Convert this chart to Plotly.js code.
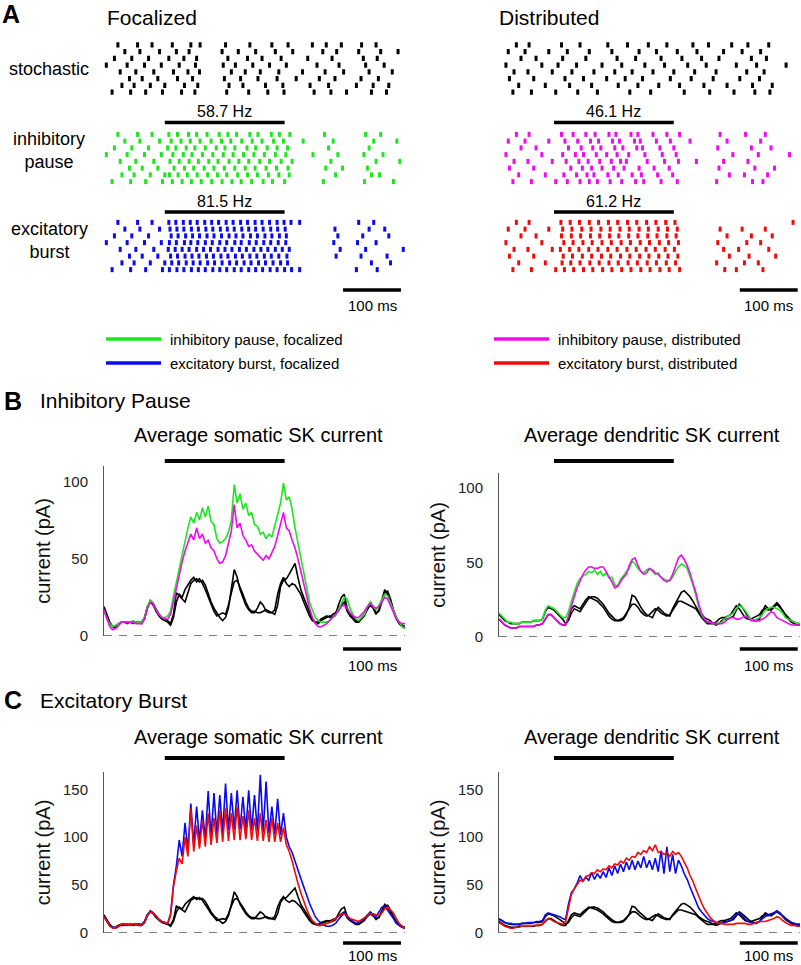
<!DOCTYPE html>
<html>
<head>
<meta charset="utf-8">
<script src="https://cdn.plot.ly/plotly-3.0.1.min.js"></script>
<style>
html,body{margin:0;padding:0;background:#fff;}
#chart{width:801px;height:965px;}
</style>
</head>
<body>
<div id="chart"></div>
<script>
// ---------------- DATA ----------------
// time window of the stimulus (ms) and 100-ms scale bars
const STIM_WINDOW = [105, 312];
const SCALE_LEFT = [413, 513];
const SCALE_RIGHT = [426, 526];
const HZ_LABELS = ["58.7 Hz", "81.5 Hz", "46.1 Hz", "61.2 Hz"];
const ROW_LABELS = ["stochastic", "inhibitory<br>pause", "excitatory<br>burst"];
const LEGEND_LABELS = ["inhibitory pause, focalized", "excitatory burst, focalized",
                       "inhibitory pause, distributed", "excitatory burst, distributed"];
const TICKS_B = [0, 50, 100];
const TICKS_C = [0, 50, 100, 150];

// Raster spike times (ms), 8 cells each
const STOCH_FOC = [
  [24, 58, 83, 118, 150, 166, 210, 252, 290, 318, 360, 384, 410, 445, 470],
  [36, 62, 96, 125, 147, 204, 232, 262, 296, 326, 378, 402, 440, 478, 508],
  [18, 48, 77, 112, 138, 160, 214, 248, 273, 306, 352, 394, 448, 472],
  [4, 40, 70, 99, 130, 158, 206, 227, 257, 286, 315, 368, 406, 452, 484],
  [28, 55, 86, 120, 145, 165, 220, 244, 270, 302, 343, 382, 414, 458, 498],
  [44, 66, 93, 127, 153, 208, 236, 266, 299, 332, 372, 399, 444, 474],
  [31, 52, 80, 105, 139, 162, 216, 240, 279, 309, 356, 388, 436, 465, 492],
  [14, 46, 72, 101, 134, 157, 212, 250, 283, 311, 363, 392, 419, 462, 488]
];
const PAUSE_FOC_STIM = [
  [112, 127, 146, 160, 178, 199, 214, 229, 252, 266, 289, 303, 321],
  [116, 133, 149, 166, 185, 203, 219, 238, 256, 273, 293, 310],
  [110, 124, 142, 157, 175, 194, 209, 226, 247, 262, 282, 299, 317],
  [119, 137, 152, 170, 188, 206, 223, 241, 259, 277, 296, 314],
  [114, 130, 147, 163, 181, 197, 216, 233, 250, 269, 286, 306, 325],
  [121, 139, 155, 173, 190, 208, 226, 244, 261, 280, 298, 318],
  [113, 128, 144, 161, 179, 196, 212, 231, 248, 265, 284, 302, 320],
  [118, 135, 151, 168, 186, 204, 221, 237, 255, 275, 291, 312]
];
const PAUSE_FOC_POST = [
  [381, 452, 478], [344, 396, 466, 506], [388, 458], [361, 404, 449, 482],
  [392, 470, 511], [383, 412, 455], [400, 462, 476], [379, 450, 500]
];
const BURST_FOC_STIM = [
  [112, 124, 137, 149, 161, 174, 186, 198, 211, 223, 236, 248, 261, 273, 286, 299, 311, 323],
  [114, 126, 138, 151, 163, 176, 188, 201, 213, 225, 238, 250, 262, 275, 288, 300, 313],
  [116, 128, 141, 153, 165, 178, 190, 203, 216, 228, 240, 253, 265, 278, 290, 303, 315],
  [113, 125, 139, 150, 162, 175, 187, 200, 212, 226, 237, 251, 263, 276, 288, 301, 314],
  [111, 123, 135, 147, 160, 172, 184, 197, 209, 221, 234, 246, 259, 271, 283, 296, 308, 320],
  [115, 127, 140, 152, 164, 177, 189, 202, 214, 227, 239, 252, 264, 277, 289, 302, 316],
  [117, 129, 142, 154, 166, 179, 191, 204, 217, 229, 242, 254, 267, 279, 292, 305, 317],
  [113, 126, 138, 151, 163, 175, 188, 200, 212, 225, 237, 250, 262, 274, 287, 299, 312, 324]
];
const BURST_FOC_POST = [
  [338, 440, 466], [399, 458, 485], [404, 447, 492], [397, 438, 470],
  [408, 452, 517], [401, 444, 489], [462, 495], [338, 436, 472]
];
const STOCH_DIS = [
  [40, 62, 118, 150, 198, 232, 268, 300, 345, 372, 412, 440, 476],
  [26, 55, 96, 128, 166, 205, 252, 282, 318, 352, 398, 430, 462],
  [48, 74, 120, 160, 214, 246, 290, 326, 360, 390, 446, 472],
  [22, 84, 112, 144, 188, 222, 262, 296, 336, 368, 420, 455, 506],
  [36, 60, 102, 136, 174, 210, 240, 276, 312, 348, 385, 438, 468],
  [28, 70, 124, 156, 196, 228, 258, 306, 342, 380, 426, 460],
  [44, 90, 132, 170, 216, 250, 286, 322, 364, 404, 448, 482],
  [34, 66, 108, 146, 180, 236, 272, 330, 374, 416, 452, 478]
];
const PAUSE_DIS_STIM = [
  [118, 138, 160, 176, 200, 212, 238, 250, 276, 300, 322],
  [124, 146, 168, 182, 206, 218, 244, 254, 282, 306],
  [130, 152, 172, 186, 210, 224, 248, 258, 288, 312],
  [120, 142, 156, 178, 196, 214, 234, 262, 292, 316],
  [126, 148, 164, 184, 204, 220, 230, 266, 296, 320],
  [134, 154, 170, 188, 208, 226, 252, 278, 304],
  [122, 144, 162, 174, 198, 216, 240, 256, 284, 310],
  [128, 150, 166, 180, 202, 222, 246, 260, 290, 318]
];
const PAUSE_DIS_POST = [
  [392, 436, 470], [340, 404, 462], [388, 446, 480], [414, 458, 512],
  [351, 398, 440], [390, 452, 486], [408, 434, 474], [386, 448, 466]
];
const BURST_DIS_STIM = [
  [117, 133, 149, 166, 182, 199, 215, 232, 248, 265, 281, 298, 314],
  [120, 136, 153, 169, 186, 202, 219, 235, 252, 268, 285, 301, 318],
  [118, 135, 151, 168, 184, 201, 217, 234, 250, 267, 283, 300, 316],
  [122, 138, 155, 171, 188, 204, 221, 237, 254, 270, 287, 303, 320],
  [116, 132, 148, 165, 181, 198, 214, 231, 247, 264, 280, 297, 313],
  [121, 137, 154, 170, 187, 203, 220, 236, 253, 269, 286, 302, 319],
  [119, 134, 150, 167, 183, 200, 216, 233, 249, 266, 282, 299, 315],
  [123, 139, 156, 172, 189, 205, 222, 238, 255, 271, 288, 304, 322]
];
const BURST_DIS_POST = [
  [518], [392, 430, 470], [404, 446, 482], [388, 438, 462],
  [398, 424, 476], [408, 442, 488], [386, 434, 458], [400, 420, 466]
];

// Average SK currents (pA), sampled every 5 ms
// somatic: t = 0 ... 520 ms ; dendritic: t = 10 ... 530 ms
const BLACK_SOMA_1 = [19,14,9,6,5,7,9,9,8,9,9,9,9,8,11,18,23,21,17,14,12,11,10,8,
  14,28,26,24,22,28,34,36,37,35,36,33,27,22,18,15,12,10,12,18,30,43,38,30,25,20,17,15,15,18,
  22,20,16,15,15,14,20,32,36,37,40,44,47,38,30,25,20,15,11,9,8,10,11,12,13,12,14,20,25,27,
  18,14,12,10,9,11,13,18,22,19,15,16,22,28,29,24,17,12,9,7,6];
const BLACK_SOMA_2 = [17,13,8,6,6,8,9,9,9,9,8,9,9,9,12,19,22,20,16,13,11,10,9,7,
  12,22,27,25,30,33,36,38,35,37,34,30,25,20,16,13,14,15,14,20,28,35,36,32,27,22,18,16,16,15,
  15,16,17,16,15,17,27,34,38,34,32,34,33,30,27,22,17,13,10,9,9,11,12,13,12,14,15,18,20,22,
  16,13,11,9,9,12,14,17,20,18,14,17,24,30,27,22,16,11,8,6,5];
const GREEN_SOMA = [16,11,8,6,7,8,9,9,9,9,10,9,9,9,12,19,23,21,17,14,12,12,13,16,
  26,35,45,52,62,70,77,73,80,75,83,77,84,74,72,63,60,61,63,67,75,98,86,92,82,86,78,80,72,71,
  66,67,63,66,64,72,80,86,99,88,90,82,70,60,50,40,30,22,17,12,10,9,9,9,10,12,13,17,21,25,
  24,18,14,11,10,12,14,19,22,19,17,20,24,27,26,21,17,12,9,6,5];
const MAGENTA_SOMA = [17,11,6,4,5,7,9,9,9,9,9,8,8,8,11,18,22,21,17,14,12,11,11,14,
  22,31,40,48,55,60,66,62,70,63,66,60,62,57,55,50,47,48,52,60,68,85,70,73,65,62,58,59,55,53,
  51,49,52,50,54,58,65,72,80,70,68,62,57,50,42,33,25,18,12,8,6,6,7,8,10,12,14,16,19,20,
  18,15,13,12,12,14,16,19,21,19,18,19,22,25,24,20,15,11,9,8,8];
const BLUE_SOMA = [17,12,8,6,5,7,8,8,9,8,9,9,8,8,12,19,23,21,17,14,12,11,10,
  20,50,70,97,80,115,87,135,92,132,96,128,98,148,100,146,103,144,105,156,107,146,108,149,108,
  142,107,149,107,144,106,165,105,158,104,132,103,140,102,125,100,90,84,76,66,57,48,40,31,24,
  17,13,10,8,7,7,8,10,14,18,21,17,14,12,10,11,13,15,19,21,18,17,22,27,28,24,20,15,10,8,6,5];
const RED_SOMA = [17,12,7,5,5,7,9,9,9,8,9,9,8,8,11,18,22,21,17,14,12,11,10,
  18,48,65,78,72,100,80,130,85,112,88,118,90,125,92,120,94,128,95,130,96,125,97,132,97,
  122,98,128,97,120,96,125,96,118,95,120,95,115,95,110,92,85,75,62,52,42,33,25,18,13,
  10,8,8,9,10,11,13,15,18,20,20,18,15,14,13,12,14,16,18,20,20,19,18,21,25,27,24,21,15,10,7,5];

const BLACK_DEND_1 = [15,13,11,10,9,9,9,9,10,10,10,10,11,11,11,12,17,20,19,18,
  16,14,12,9,11,16,19,18,17,20,23,26,27,27,26,24,22,19,16,14,12,11,11,12,15,20,28,27,23,20,
  17,15,14,13,17,20,18,16,15,14,19,23,27,30,31,29,27,24,20,17,15,13,12,11,9,8,9,11,12,12,
  13,14,18,22,20,17,14,12,11,11,12,17,21,19,18,20,22,20,18,15,13,11,10,9,9];
const BLACK_DEND_2 = [12,10,8,7,6,6,6,7,7,7,7,7,7,8,8,9,12,15,15,13,
  11,9,8,8,13,19,21,20,19,22,25,27,26,25,24,22,20,17,14,12,11,11,12,13,16,19,22,22,20,17,
  15,14,15,17,19,18,16,15,14,15,18,21,24,24,23,22,21,20,19,16,13,11,9,9,9,10,12,13,13,14,
  15,18,21,19,16,13,12,12,13,14,15,18,19,18,19,21,23,21,17,14,12,10,9,8,8];
const GREEN_DEND = [16,14,12,10,10,9,9,9,10,10,10,10,11,11,11,12,18,21,20,19,
  17,15,13,13,17,24,30,36,39,41,42,44,43,45,42,44,41,43,40,40,35,34,39,41,44,46,51,49,46,44,
  43,45,46,44,42,43,40,39,38,38,40,44,47,49,48,46,41,35,28,20,15,12,10,10,9,9,9,10,12,14,
  15,16,19,21,20,18,15,12,11,12,13,15,18,19,20,20,19,18,16,13,12,11,10,9,9];
const MAGENTA_DEND = [12,10,8,7,6,6,6,7,7,7,7,7,7,8,8,9,12,15,15,13,
  11,9,8,8,14,21,27,33,38,42,45,47,47,46,46,47,47,44,40,37,33,34,37,40,42,48,52,53,48,44,
  42,43,46,45,43,42,40,38,37,38,42,48,53,55,52,48,43,36,30,22,16,12,10,10,9,9,9,9,10,12,
  13,13,12,12,13,14,13,11,11,11,11,12,13,15,17,16,13,12,11,10,9,8,8,8,8];
const BLUE_DEND = [14,13,11,10,10,9,9,9,10,10,11,11,11,12,12,13,19,21,20,19,
  18,17,15,14,30,42,46,52,60,54,58,55,63,56,62,57,64,58,68,60,70,62,72,64,74,66,76,66,75,68,
  80,68,76,66,78,64,86,62,90,64,82,62,76,70,62,56,48,40,32,26,22,18,15,13,12,11,10,10,11,12,
  13,16,20,21,18,15,12,11,10,10,12,15,17,19,20,21,23,21,18,15,13,11,10,9,9];
const RED_DEND = [11,9,7,6,5,5,6,6,7,7,7,7,8,8,8,9,13,15,14,12,
  11,10,9,12,28,40,46,50,55,54,59,60,63,62,66,64,67,66,70,68,72,71,75,73,78,76,80,79,84,82,
  86,84,90,86,92,84,85,82,84,80,85,82,84,80,74,68,60,54,46,38,31,25,20,16,13,11,10,10,9,9,
  9,9,10,10,10,10,9,9,10,11,12,12,12,13,14,15,17,16,13,11,9,8,8,7,7];

// ---------------- STYLE / LAYOUT ----------------
const W = 801, H = 965;
const px = v => v / W;
const py = v => 1 - v / H;
const FONT = "Liberation Sans, Arial, sans-serif";
const C_GREEN = "#1ee61e", C_BLUE = "#0a0af0", C_MAG = "#f00af0", C_RED = "#f00a0a", C_BLACK = "#000000";

function rasterTrace(rows, xa, ya, color) {
  const x = [], y = [];
  rows.forEach((r, k) => r.forEach(t => { x.push(t); y.push(k); }));
  return {type: "scatter", mode: "markers", x: x, y: y, xaxis: xa, yaxis: ya,
    marker: {symbol: "line-ns", size: 3.6, line: {width: 3, color: color}},
    hoverinfo: "skip", showlegend: false};
}
function combine(bg, stim, post, cutoff) {
  return bg.map((r, k) => r.filter(t => t < cutoff).concat(stim[k], post[k]));
}
function curve(arr, t0, xa, ya, color) {
  return {type: "scatter", mode: "lines", x0: t0, dx: 5, y: arr, xaxis: xa, yaxis: ya,
    line: {color: color, width: 1.6}, hoverinfo: "skip", showlegend: false};
}

const traces = [
  rasterTrace(STOCH_FOC, "x", "y", C_BLACK),
  rasterTrace(combine(STOCH_FOC, PAUSE_FOC_STIM, PAUSE_FOC_POST, 108), "x", "y2", C_GREEN),
  rasterTrace(combine(STOCH_FOC, BURST_FOC_STIM, BURST_FOC_POST, 108), "x", "y3", C_BLUE),
  rasterTrace(STOCH_DIS, "x2", "y", C_BLACK),
  rasterTrace(combine(STOCH_DIS, PAUSE_DIS_STIM, PAUSE_DIS_POST, 110), "x2", "y2", C_MAG),
  rasterTrace(combine(STOCH_DIS, BURST_DIS_STIM, BURST_DIS_POST, 110), "x2", "y3", C_RED),
  // B left
  curve(BLACK_SOMA_1, 0, "x", "y4", C_BLACK),
  curve(BLACK_SOMA_2, 0, "x", "y4", C_BLACK),
  curve(GREEN_SOMA, 0, "x", "y4", C_GREEN),
  curve(MAGENTA_SOMA, 0, "x", "y4", C_MAG),
  // B right
  curve(BLACK_DEND_1, 10, "x2", "y5", C_BLACK),
  curve(BLACK_DEND_2, 10, "x2", "y5", C_BLACK),
  curve(GREEN_DEND, 10, "x2", "y5", C_GREEN),
  curve(MAGENTA_DEND, 10, "x2", "y5", C_MAG),
  // C left
  curve(BLACK_SOMA_1, 0, "x", "y6", C_BLACK),
  curve(BLACK_SOMA_2, 0, "x", "y6", C_BLACK),
  curve(BLUE_SOMA, 0, "x", "y6", C_BLUE),
  curve(RED_SOMA, 0, "x", "y6", C_RED),
  // C right
  curve(BLACK_DEND_1, 10, "x2", "y7", C_BLACK),
  curve(BLACK_DEND_2, 10, "x2", "y7", C_BLACK),
  curve(BLUE_DEND, 10, "x2", "y7", C_BLUE),
  curve(RED_DEND, 10, "x2", "y7", C_RED)
];

const hiddenX = {visible: false, showgrid: false, zeroline: false};
const hiddenY = {visible: false, showgrid: false, zeroline: false, range: [7.5, -0.5]};
function plotY(dom, range, ticks, anchor) {
  return {domain: dom, range: range, anchor: anchor, showgrid: false, zeroline: false,
    showline: true, linecolor: "#555", linewidth: 1, ticks: "", tickvals: ticks,
    ticklabelstandoff: 12, tickfont: {family: FONT, size: 15, color: "#222"},
    title: {text: "current (pA)", font: {family: FONT, size: 20, color: "#111"}, standoff: 6}};
}

const shapes = [];
function hbar(xref, x0, x1, y, w) {
  shapes.push({type: "line", xref: xref, yref: "paper", x0: x0, x1: x1, y0: py(y), y1: py(y),
    line: {color: "#000", width: w}});
}
function zeroLine(xref, yref, x0, x1) {
  shapes.push({type: "line", xref: xref, yref: yref, x0: x0, x1: x1, y0: 0, y1: 0,
    line: {color: "#000", width: 1, dash: "8px,7px"}});
}
// stimulus bars
hbar("x", STIM_WINDOW[0], STIM_WINDOW[1], 122.5, 3.5);
hbar("x", STIM_WINDOW[0], STIM_WINDOW[1], 212, 3.5);
hbar("x2", STIM_WINDOW[0], STIM_WINDOW[1], 122.5, 3.5);
hbar("x2", STIM_WINDOW[0], STIM_WINDOW[1], 212, 3.5);
hbar("x", STIM_WINDOW[0], STIM_WINDOW[1], 461, 4);
hbar("x2", STIM_WINDOW[0], STIM_WINDOW[1], 461, 4);
hbar("x", STIM_WINDOW[0], STIM_WINDOW[1], 758, 4);
hbar("x2", STIM_WINDOW[0], STIM_WINDOW[1], 758, 4);
// scale bars
hbar("x", SCALE_LEFT[0], SCALE_LEFT[1], 290, 3.5);
hbar("x2", SCALE_RIGHT[0], SCALE_RIGHT[1], 290, 3.5);
hbar("x", SCALE_LEFT[0], SCALE_LEFT[1], 649, 3.5);
hbar("x2", SCALE_RIGHT[0], SCALE_RIGHT[1], 649, 3.5);
hbar("x", SCALE_LEFT[0], SCALE_LEFT[1], 943, 3.5);
hbar("x2", SCALE_RIGHT[0], SCALE_RIGHT[1], 943, 3.5);
// zero lines
zeroLine("x", "y4", 0, 520);
zeroLine("x2", "y5", 10, 530);
zeroLine("x", "y6", 0, 520);
zeroLine("x2", "y7", 10, 530);
// legend swatches
const legendColors = [C_GREEN, C_BLUE, C_MAG, C_RED];
const legendPos = [[106, 339], [106, 363], [494, 339], [494, 363]];
legendColors.forEach((c, i) => {
  const [lx, ly] = legendPos[i];
  shapes.push({type: "line", xref: "paper", yref: "paper", x0: px(lx), x1: px(lx + 55),
    y0: py(ly), y1: py(ly), line: {color: c, width: 3.5}});
});

const annotations = [];
function txt(text, x, y, size, opts) {
  annotations.push(Object.assign({text: text, xref: "paper", yref: "paper", x: px(x), y: py(y),
    showarrow: false, xanchor: "left", yanchor: "middle",
    font: {family: FONT, size: size, color: "#000"}}, opts || {}));
}
function dtxt(text, xref, x, y, size) {
  annotations.push({text: text, xref: xref, yref: "paper", x: x, y: py(y), showarrow: false,
    xanchor: "center", yanchor: "middle", font: {family: FONT, size: size, color: "#000"}});
}
txt("<b>A</b>", 0, 14, 25);
txt("Focalized", 105, 18, 21);
txt("Distributed", 497, 18, 21);
txt(ROW_LABELS[0], 49, 69, 18, {xanchor: "center"});
txt(ROW_LABELS[1], 49, 150, 18, {xanchor: "center"});
txt(ROW_LABELS[2], 49, 240, 18, {xanchor: "center"});
const stimMid = (STIM_WINDOW[0] + STIM_WINDOW[1]) / 2;
dtxt(HZ_LABELS[0], "x", stimMid, 111, 16);
dtxt(HZ_LABELS[1], "x", stimMid, 201, 16);
dtxt(HZ_LABELS[2], "x2", stimMid, 111, 16);
dtxt(HZ_LABELS[3], "x2", stimMid, 201, 16);
const scMidL = (SCALE_LEFT[0] + SCALE_LEFT[1]) / 2, scMidR = (SCALE_RIGHT[0] + SCALE_RIGHT[1]) / 2;
[305, 665, 955].forEach(y => { dtxt("100 ms", "x", scMidL, y, 15); dtxt("100 ms", "x2", scMidR, y, 15); });
LEGEND_LABELS.forEach((l, i) => txt(l, legendPos[i][0] + 62, legendPos[i][1], 15));
txt("<b>B</b>", 2, 401, 25);
txt("Inhibitory Pause", 38, 401, 21);
txt("<b>C</b>", 2, 700, 25);
txt("Excitatory Burst", 38, 700, 21);
txt("Average somatic SK current", 258, 435, 20, {xanchor: "center"});
txt("Average dendritic SK current", 652, 435, 20, {xanchor: "center"});
txt("Average somatic SK current", 258, 737, 20, {xanchor: "center"});
txt("Average dendritic SK current", 652, 737, 20, {xanchor: "center"});

const layout = {
  width: W, height: H, margin: {l: 0, r: 0, t: 0, b: 0},
  paper_bgcolor: "#fff", plot_bgcolor: "rgba(0,0,0,0)", showlegend: false,
  font: {family: FONT, color: "#000"},
  xaxis: Object.assign({domain: [px(104), px(405)], range: [0, 520], anchor: "y4"}, hiddenX),
  xaxis2: Object.assign({domain: [px(499), px(800)], range: [10, 530], anchor: "y5"}, hiddenX),
  yaxis: Object.assign({domain: [py(95.5), py(41.5)], anchor: "x"}, hiddenY),
  yaxis2: Object.assign({domain: [py(185), py(131)], anchor: "x"}, hiddenY),
  yaxis3: Object.assign({domain: [py(273), py(219)], anchor: "x"}, hiddenY),
  yaxis4: plotY([py(636), py(466)], [0, 110], TICKS_B, "x"),
  yaxis5: plotY([py(637), py(473)], [0, 110], TICKS_B, "x2"),
  yaxis6: plotY([py(933), py(772)], [0, 168], TICKS_C, "x"),
  yaxis7: plotY([py(933), py(772)], [0, 168], TICKS_C, "x2"),
  shapes: shapes,
  annotations: annotations
};

Plotly.newPlot("chart", traces, layout, {staticPlot: true, displayModeBar: false});
</script>
</body>
</html>
